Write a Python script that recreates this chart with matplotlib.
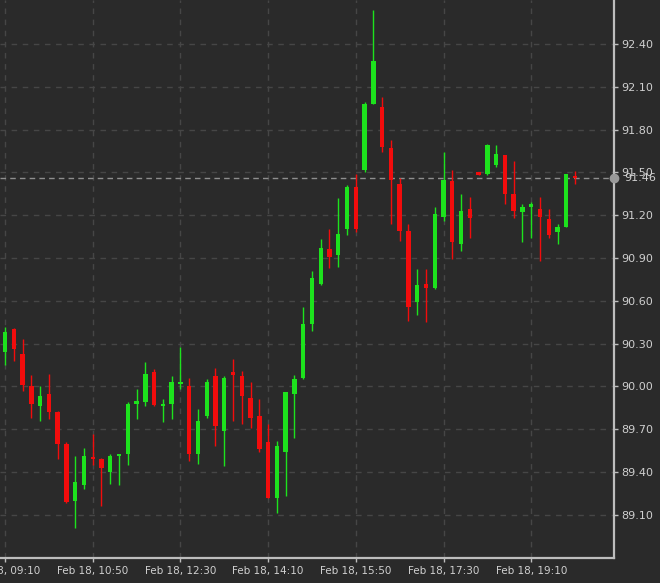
import matplotlib
matplotlib.use("Agg")
import matplotlib.pyplot as plt
import matplotlib.transforms as mtransforms
import numpy as np

# ---- data (10-minute candles, Feb 18, 09:10 -> 20:00) ----
times = ["09:10", "09:20", "09:30", "09:40", "09:50", "10:00", "10:10", "10:20", "10:30", "10:40",
         "10:50", "11:00", "11:10", "11:20", "11:30", "11:40", "11:50", "12:00", "12:10", "12:20",
         "12:30", "12:40", "12:50", "13:00", "13:10", "13:20", "13:30", "13:40", "13:50", "14:00",
         "14:10", "14:20", "14:30", "14:40", "14:50", "15:00", "15:10", "15:20", "15:30", "15:40",
         "15:50", "16:00", "16:10", "16:20", "16:30", "16:40", "16:50", "17:00", "17:10", "17:20",
         "17:30", "17:40", "17:50", "18:00", "18:10", "18:20", "18:30", "18:40", "18:50", "19:00",
         "19:10", "19:20", "19:30", "19:40", "19:50", "20:00"]
opens = [90.24, 90.40, 90.23, 90.00, 89.86, 89.95, 89.82, 89.60, 89.20, 89.31,
         89.50, 89.49, 89.40, 89.51, 89.53, 89.88, 89.89, 90.10, 89.86, 89.88,
         90.02, 90.00, 89.53, 89.79, 90.07, 89.69, 90.10, 90.07, 89.92, 89.79,
         89.61, 89.22, 89.54, 89.95, 90.06, 90.44, 90.72, 90.96, 90.92, 91.10,
         91.40, 91.52, 91.98, 91.96, 91.67, 91.42, 91.09, 90.59, 90.72, 90.69,
         91.19, 91.44, 91.00, 91.24, 91.50, 91.49, 91.55, 91.62, 91.35, 91.22,
         91.26, 91.24, 91.17, 91.08, 91.12, 91.47]
highs = [90.42, 90.41, 90.33, 90.08, 90.00, 90.09, 89.83, 89.61, 89.51, 89.57,
         89.67, 89.50, 89.53, 89.53, 89.89, 89.98, 90.17, 90.12, 89.91, 90.07,
         90.28, 90.06, 89.84, 90.05, 90.13, 90.07, 90.19, 90.11, 90.03, 89.91,
         89.74, 89.62, 89.96, 90.08, 90.56, 90.81, 91.03, 91.10, 91.32, 91.41,
         91.49, 91.99, 92.64, 92.03, 91.73, 91.46, 91.14, 90.82, 90.82, 91.26,
         91.64, 91.52, 91.35, 91.33, 91.50, 91.70, 91.69, 91.62, 91.58, 91.28,
         91.29, 91.33, 91.24, 91.14, 91.49, 91.51]
lows = [90.15, 90.18, 89.97, 89.78, 89.76, 89.77, 89.49, 89.18, 89.01, 89.28,
        89.45, 89.16, 89.32, 89.31, 89.45, 89.77, 89.86, 89.86, 89.75, 89.77,
        89.98, 89.48, 89.46, 89.78, 89.58, 89.44, 89.76, 89.74, 89.71, 89.54,
        89.22, 89.11, 89.23, 89.64, 90.05, 90.39, 90.71, 90.83, 90.84, 91.06,
        91.08, 91.50, 91.98, 91.64, 91.14, 91.02, 90.46, 90.50, 90.45, 90.68,
        91.16, 90.89, 90.95, 91.04, 91.48, 91.48, 91.54, 91.28, 91.18, 91.01,
        91.04, 90.88, 91.04, 91.00, 91.12, 91.42]
closes = [90.38, 90.26, 90.01, 89.88, 89.93, 89.82, 89.60, 89.19, 89.33, 89.51,
          89.49, 89.43, 89.51, 89.52, 89.88, 89.90, 90.09, 89.87, 89.88, 90.03,
          90.03, 89.53, 89.76, 90.03, 89.72, 90.06, 90.08, 89.93, 89.78, 89.56,
          89.22, 89.58, 89.96, 90.05, 90.44, 90.76, 90.97, 90.91, 91.07, 91.40,
          91.10, 91.98, 92.28, 91.68, 91.45, 91.09, 90.56, 90.71, 90.69, 91.21,
          91.45, 91.01, 91.23, 91.18, 91.48, 91.69, 91.63, 91.35, 91.23, 91.26,
          91.28, 91.19, 91.06, 91.12, 91.49, 91.46]
up_flags = [c >= o for o, c in zip(opens, closes)]
up_flags[10] = False   # 10:50 red doji
up_flags[54] = False   # 18:10 red doji
up_flags[65] = False   # 20:00 red doji

x_tick_labels = ["Feb 18, 09:10", "Feb 18, 10:50", "Feb 18, 12:30", "Feb 18, 14:10",
                 "Feb 18, 15:50", "Feb 18, 17:30", "Feb 18, 19:10"]
x_tick_times = ["09:10", "10:50", "12:30", "14:10", "15:50", "17:30", "19:10"]
y_ticks = [89.10, 89.40, 89.70, 90.00, 90.30, 90.60, 90.90, 91.20, 91.50, 91.80, 92.10, 92.40]
last_price = 91.46

# ---- style ----
BG = "#2a2a2a"
GREEN = "#1de21d"
RED = "#f20c0c"
GRID = "#464646"
TXT = "#cfcfcf"
SPINE = "#bdbdbd"

fig = plt.figure(figsize=(6.6, 5.83), dpi=100, facecolor=BG)
ax = fig.add_axes([0.0, 1 - 558 / 583, 614 / 660, 558 / 583])
ax.set_facecolor(BG)

x = np.arange(len(times))
o = np.array(opens); c = np.array(closes); h = np.array(highs); l = np.array(lows)
cols = [GREEN if u else RED for u in up_flags]
bottoms = np.minimum(o, c)
heights = np.maximum(np.abs(c - o), 0.014)

ax.vlines(x, l, h, colors=cols, linewidth=1.0, zorder=3)
ax.bar(x, heights, bottom=bottoms, width=0.5, color=cols, linewidth=0, zorder=4)

ax.set_xlim(-0.57, 69.44)
ax.set_ylim(88.798, 92.708)

xt = [times.index(t) for t in x_tick_times]
ax.set_xticks(xt)
ax.set_xticklabels(x_tick_labels)
ax.set_yticks(y_ticks)
ax.set_yticklabels([f"{v:.2f}" for v in y_ticks])
ax.yaxis.tick_right()

ax.grid(True, color=GRID, linestyle=(0, (4, 4)), linewidth=1.0, zorder=0)
ax.tick_params(axis="both", colors=SPINE, labelcolor=TXT, length=3, width=1, labelsize=8)
ax.tick_params(axis="x", pad=3, labelsize=7.5)
ax.tick_params(axis="y", pad=2.5)

for s in ["left", "top"]:
    ax.spines[s].set_visible(False)
for s in ["right", "bottom"]:
    ax.spines[s].set_color(SPINE)
    ax.spines[s].set_linewidth(1.6)

# current price line, marker and label
ax.axhline(last_price, color="#8e8e8e", linestyle=(0, (4, 3)), linewidth=1.0, zorder=2)
trans = mtransforms.blended_transform_factory(ax.transAxes, ax.transData)
ax.plot([1.0], [last_price], "o", color="#9a9a9a", markersize=6, transform=trans,
        clip_on=False, zorder=6)
ax.annotate(f"{last_price:.2f}", xy=(1.0, last_price), xycoords=trans,
            xytext=(7.5, 0), textcoords="offset points", color=TXT, fontsize=8,
            va="center", ha="left", annotation_clip=False)

fig.savefig("out.png", dpi=100, facecolor=BG)
